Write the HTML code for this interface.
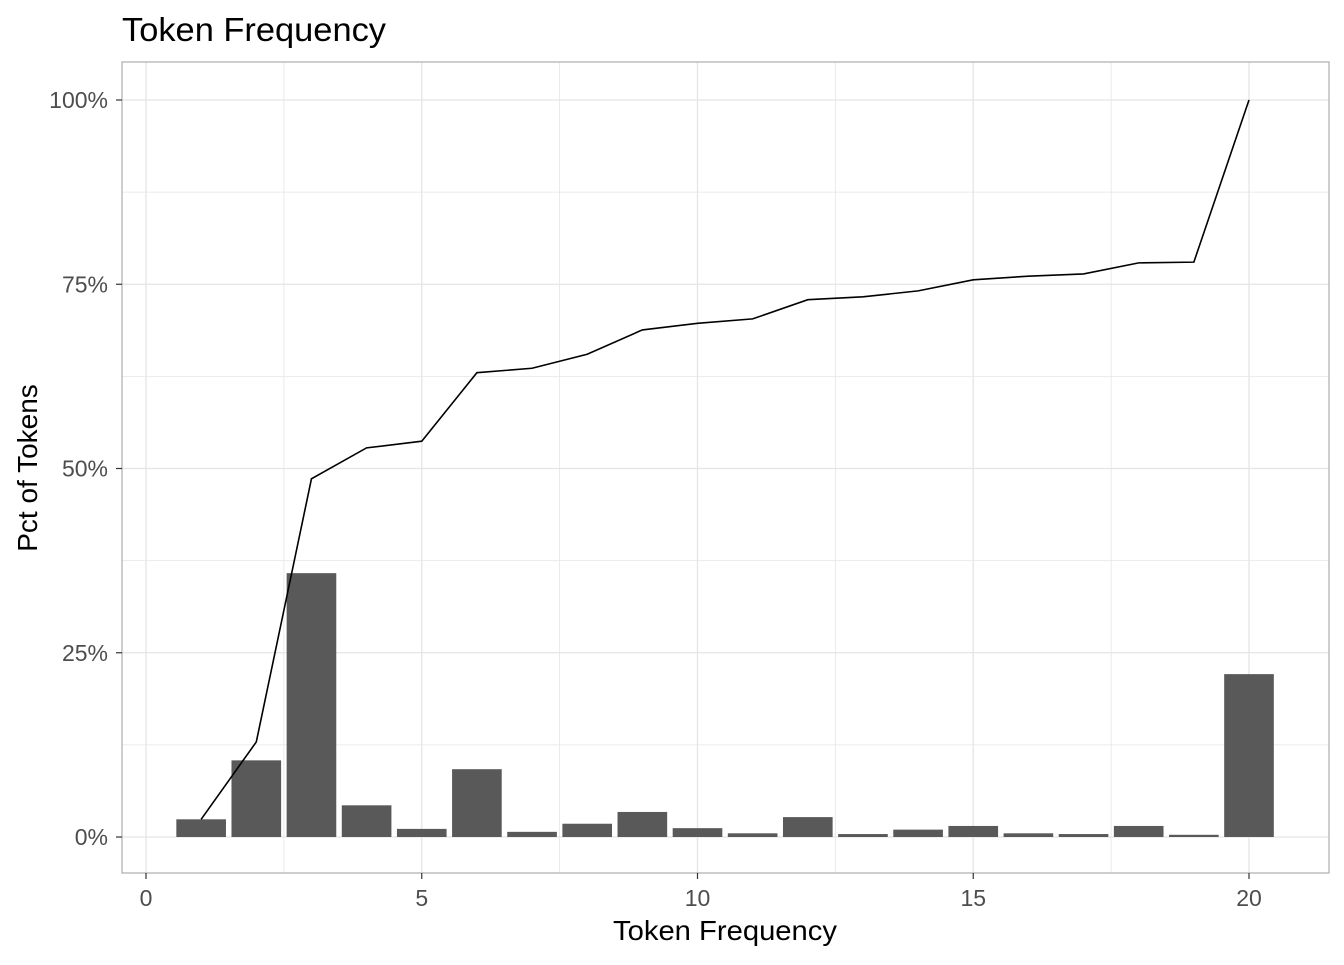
<!DOCTYPE html>
<html><head><meta charset="utf-8"><style>
body{margin:0;background:#fff;font-family:"Liberation Sans",sans-serif}
</style></head><body>
<svg id="chart" width="1344" height="960" xmlns="http://www.w3.org/2000/svg">
<text x="122" y="41" font-size="33" textLength="264" lengthAdjust="spacingAndGlyphs" fill="#000">Token Frequency</text>
<g id="grid"></g>
<g id="bars"></g>
<path id="line" fill="none" stroke="#000" stroke-width="1.6"/>
<rect x="122" y="62" width="1207" height="811" fill="none" stroke="#b3b3b3" stroke-width="1.3"/>
<g id="ticks"></g>
<text x="725" y="940" font-size="28" textLength="224" lengthAdjust="spacingAndGlyphs" text-anchor="middle">Token Frequency</text>
<text transform="translate(37,468) rotate(-90)" font-size="28" text-anchor="middle">Pct of Tokens</text>
</svg>
<script>
const categories=[1,2,3,4,5,6,7,8,9,10,11,12,13,14,15,16,17,18,19,20];
const pctValues=[2.4,10.4,35.8,4.3,1.1,9.2,0.7,1.8,3.4,1.2,0.5,2.7,0.4,1.0,1.5,0.5,0.4,1.5,0.3,22.1];
const cumValues=[2.4,12.9,48.6,52.8,53.7,63.0,63.6,65.5,68.8,69.7,70.3,72.9,73.3,74.1,75.6,76.1,76.4,77.9,78.0,100];
const xTicks=[0,5,10,15,20];
const yTicks=[0,25,50,75,100];
const yTickLabels=["0%","25%","50%","75%","100%"];
const NS="http://www.w3.org/2000/svg";
const xs=v=>146+v*(1249-146)/20;
const ys=v=>837-v*(837-100)/100;
function mk(t,a,p){const e=document.createElementNS(NS,t);for(const k in a)e.setAttribute(k,a[k]);p.appendChild(e);return e;}
const grid=document.getElementById('grid'),bars=document.getElementById('bars'),ticks=document.getElementById('ticks');
for(let v=-2.5;v<=22.5;v+=2.5){const x=xs(v);if(x<122||x>1329)continue;
 const l=mk('line',{x1:x,x2:x,y1:62,y2:873,stroke:'#e5e5e5','stroke-width':v%5===0?1.3:0.8},grid);
 }
for(let v=-12.5;v<=112.5;v+=12.5){const y=ys(v);if(y<62||y>873)continue;
 const l=mk('line',{x1:122,x2:1329,y1:y,y2:y,stroke:'#e5e5e5','stroke-width':v%25===0?1.3:0.8},grid);
 }
categories.forEach((c,i)=>{const w=xs(0.45)-xs(0);
 const r=mk('rect',{x:xs(c)-w,y:ys(pctValues[i]),width:2*w,height:ys(0)-ys(pctValues[i]),fill:'#595959'},bars);
 });
document.getElementById('line').setAttribute('d',categories.map((c,i)=>(i?'L':'M')+xs(c)+','+ys(cumValues[i])).join(''));
xTicks.forEach(v=>{const t=mk('text',{x:xs(v),y:906,'font-size':23,fill:'#4d4d4d','text-anchor':'middle'},ticks);t.textContent=v;
 
 const k=mk('line',{x1:xs(v),x2:xs(v),y1:873,y2:879,stroke:'#333','stroke-width':1.2},ticks);});
yTicks.forEach((v,i)=>{const t=mk('text',{x:108,y:ys(v)+8,'font-size':23,fill:'#4d4d4d','text-anchor':'end'},ticks);t.textContent=yTickLabels[i];
 
 const k=mk('line',{x1:116,x2:122,y1:ys(v),y2:ys(v),stroke:'#333','stroke-width':1.2},ticks);});
</script>
</body></html>
